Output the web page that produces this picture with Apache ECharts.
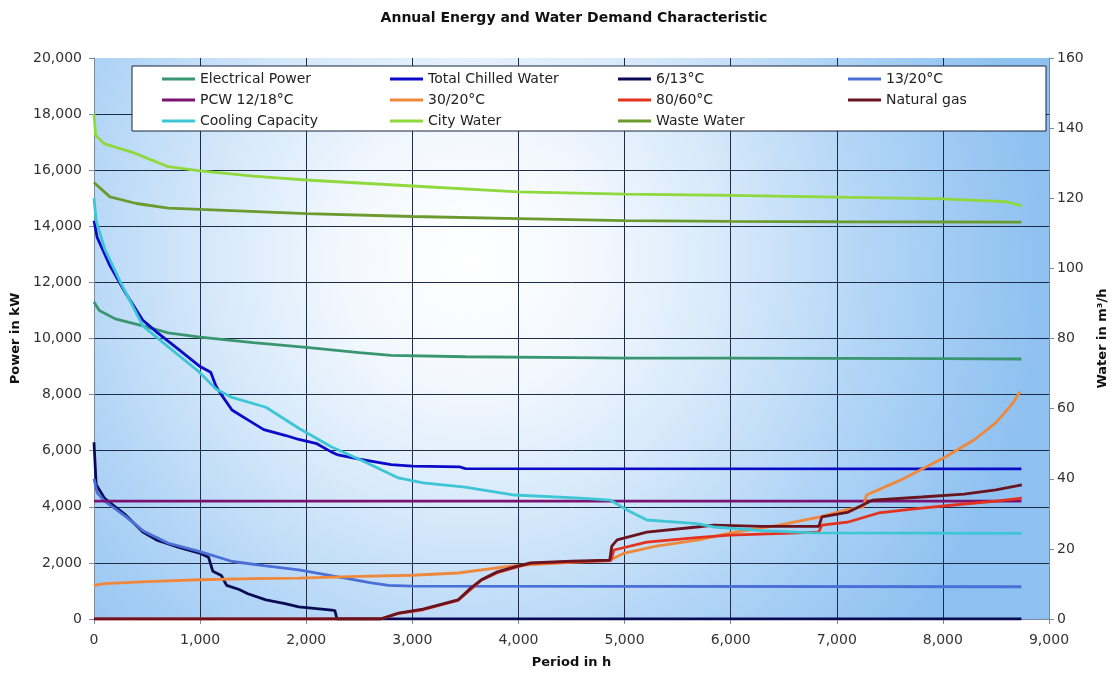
<!DOCTYPE html>
<html>
<head>
<meta charset="utf-8">
<title>Annual Energy and Water Demand Characteristic</title>
<script src="https://cdn.jsdelivr.net/npm/echarts@6/dist/echarts.min.js"></script>
<style>
  html, body { margin: 0; padding: 0; background: #fff; }
  #chart { width: 1117px; height: 679px; }
</style>
</head>
<body>
<div id="chart"></div>
<script>
// 时间轴刻度 (h) 与两条纵轴
const xTicks = [0, 1000, 2000, 3000, 4000, 5000, 6000, 7000, 8000, 9000]
const powerTicks = [0, 2000, 4000, 6000, 8000, 10000, 12000, 14000, 16000, 18000, 20000]
const waterTicks = [0, 20, 40, 60, 80, 100, 120, 140, 160]

// 各曲线：[小时, 数值]，功率单位 kW
const electricalPower = [[0, 11300], [50, 11000], [200, 10700], [460, 10450], [700, 10200], [1000, 10050], [1500, 9850], [2000, 9680], [2500, 9500], [2800, 9400], [3500, 9350], [4500, 9320], [5000, 9300], [6000, 9300], [7000, 9290], [8000, 9280], [8740, 9270]]
const totalChilled = [[0, 14200], [30, 13600], [150, 12600], [300, 11600], [460, 10650], [600, 10200], [800, 9600], [1000, 9000], [1100, 8800], [1150, 8300], [1200, 8000], [1300, 7450], [1450, 7100], [1600, 6750], [1800, 6550], [1930, 6400], [2100, 6250], [2240, 5950], [2300, 5850], [2500, 5700], [2800, 5500], [3000, 5450], [3450, 5420], [3500, 5360], [8740, 5350]]
const chilled613 = [[0, 6300], [20, 4800], [100, 4300], [200, 4000], [300, 3700], [460, 3100], [600, 2800], [800, 2550], [993, 2350], [1080, 2200], [1120, 1700], [1200, 1550], [1250, 1200], [1368, 1050], [1450, 900], [1620, 680], [1800, 550], [1930, 430], [2240, 320], [2270, 300], [2290, 0], [8740, 0]]
const cooling1320 = [[0, 5000], [30, 4500], [100, 4200], [300, 3650], [460, 3150], [700, 2700], [1000, 2400], [1303, 2050], [1600, 1900], [1930, 1750], [2300, 1500], [2600, 1300], [2774, 1200], [3000, 1170], [8740, 1150]]
const pcw1218 = [[0, 4200], [8740, 4200]]
const heat3020 = [[0, 1200], [100, 1260], [500, 1330], [1000, 1400], [1500, 1440], [1930, 1460], [2500, 1520], [3000, 1560], [3430, 1640], [3964, 1900], [4500, 2020], [4850, 2080], [5000, 2350], [5300, 2600], [5700, 2820], [5990, 3060], [6457, 3350], [6832, 3636], [7100, 3900], [7250, 4000], [7280, 4420], [7600, 4950], [8023, 5775], [8300, 6400], [8500, 7000], [8650, 7650], [8725, 8090]]
const heat8060 = [[0, 0], [2700, 0], [2870, 200], [3100, 330], [3430, 660], [3550, 1050], [3650, 1380], [3800, 1650], [3964, 1830], [4114, 1980], [4500, 2040], [4870, 2080], [4900, 2460], [5210, 2740], [5680, 2900], [5990, 2990], [6500, 3050], [6830, 3100], [6860, 3350], [7100, 3450], [7395, 3780], [7800, 3950], [8200, 4100], [8500, 4200], [8744, 4310]]
const naturalGas = [[0, 0], [2700, 0], [2870, 210], [3100, 350], [3430, 680], [3550, 1100], [3650, 1400], [3800, 1680], [3964, 1860], [4114, 2000], [4500, 2060], [4860, 2100], [4880, 2600], [4930, 2820], [5210, 3100], [5680, 3280], [5840, 3350], [6300, 3300], [6830, 3300], [6860, 3640], [7100, 3800], [7340, 4240], [7800, 4350], [8200, 4450], [8500, 4600], [8744, 4780]]
const coolingCapacity = [[0, 15000], [20, 14200], [100, 13200], [250, 12000], [460, 10450], [700, 9700], [993, 8800], [1150, 8200], [1300, 7900], [1620, 7550], [1930, 6800], [2240, 6130], [2555, 5600], [2868, 5030], [3100, 4850], [3496, 4700], [3964, 4420], [4583, 4310], [4864, 4240], [5023, 3890], [5210, 3530], [5680, 3400], [5840, 3280], [6300, 3150], [6776, 3070], [8740, 3050]]
// 水量曲线，单位 m³/h（右轴）
const cityWater = [[0, 144], [15, 138], [100, 135.5], [370, 133], [700, 129], [1000, 127.8], [1500, 126.3], [2000, 125.2], [3000, 123.5], [4000, 121.8], [5000, 121.2], [6000, 120.8], [7000, 120.3], [8000, 119.8], [8600, 119], [8740, 117.8]]
const wasteWater = [[0, 124.5], [150, 120.4], [400, 118.5], [700, 117.2], [1000, 116.8], [2000, 115.6], [3000, 114.8], [4000, 114.2], [5000, 113.6], [6000, 113.4], [7000, 113.3], [8740, 113.2]]

const FONT = 'DejaVu Sans'
const fmt = v => Number(v).toLocaleString('en-US')

const seriesDefs = [
  { name: 'Electrical Power', data: electricalPower, color: '#3a9670', axis: 0 },
  { name: 'Total Chilled Water', data: totalChilled, color: '#0a0ac8', axis: 0 },
  { name: '6/13°C', data: chilled613, color: '#0a0a55', axis: 0 },
  { name: '13/20°C', data: cooling1320, color: '#4a70d8', axis: 0 },
  { name: 'PCW 12/18°C', data: pcw1218, color: '#7a1272', axis: 0 },
  { name: '30/20°C', data: heat3020, color: '#f0883c', axis: 0 },
  { name: '80/60°C', data: heat8060, color: '#e4321e', axis: 0 },
  { name: 'Natural gas', data: naturalGas, color: '#6a1420', axis: 0 },
  { name: 'Cooling Capacity', data: coolingCapacity, color: '#3ec6d6', axis: 0 },
  { name: 'City Water', data: cityWater, color: '#8fd83e', axis: 1 },
  { name: 'Waste Water', data: wasteWater, color: '#6b9a2e', axis: 1 }
]

const chart = echarts.init(document.getElementById('chart'), null, { renderer: 'canvas' })

// 图例四列，每列一个 legend
const legendCols = [[0, 4, 8], [1, 5, 9], [2, 6, 10], [3, 7]]
const legendLeft = [162, 390, 618, 848]
const legends = legendCols.map((col, i) => ({
  orient: 'vertical',
  left: legendLeft[i],
  top: 72,
  padding: 0,
  itemGap: 7,
  itemWidth: 33,
  itemHeight: 3,
  icon: 'rect',
  selectedMode: false,
  data: col.map(k => seriesDefs[k].name),
  textStyle: { fontFamily: FONT, fontSize: 14, color: '#222', lineHeight: 14 }
}))

const axisLineStyle = { color: '#7c8aa4', width: 1 }
const gridLineStyle = { color: '#1e2c48', width: 1 }

const option = {
  animation: false,
  backgroundColor: '#ffffff',
  title: {
    text: 'Annual Energy and Water Demand Characteristic',
    left: 574,
    textAlign: 'center',
    top: 11,
    padding: 0,
    textStyle: { fontFamily: FONT, fontSize: 14, fontWeight: 'bold', color: '#111' }
  },
  legend: legends,
  graphic: [{
    type: 'rect',
    z: 3,
    shape: { x: 132, y: 66, width: 914, height: 65 },
    style: { fill: '#ffffff', stroke: '#1a2540', lineWidth: 1 }
  }],
  grid: {
    show: true,
    left: 94, right: 62, top: 58, bottom: 60,
    borderWidth: 0,
    // 中心偏左上的径向渐变，白到浅蓝
    backgroundColor: new echarts.graphic.RadialGradient(470, 260, 570, [
      { offset: 0, color: '#ffffff' },
      { offset: 0.22, color: '#f3f8fe' },
      { offset: 0.48, color: '#d3e7fa' },
      { offset: 0.72, color: '#b0d4f6' },
      { offset: 1, color: '#8fc1f0' }
    ], true)
  },
  xAxis: {
    type: 'value',
    min: xTicks[0], max: xTicks[xTicks.length - 1], interval: 1000,
    name: 'Period in h', nameLocation: 'middle', nameGap: 37,
    nameTextStyle: { fontFamily: FONT, fontSize: 13, fontWeight: 'bold', color: '#111' },
    axisLine: { lineStyle: axisLineStyle },
    axisTick: { show: true, inside: false, length: 5, lineStyle: axisLineStyle },
    axisLabel: { fontFamily: FONT, fontSize: 14, color: '#333', margin: 14, formatter: fmt },
    splitLine: { show: true, lineStyle: gridLineStyle, showMinLine: false, showMaxLine: false }
  },
  yAxis: [{
    type: 'value',
    min: powerTicks[0], max: powerTicks[powerTicks.length - 1], interval: 2000,
    name: 'Power in kW', nameLocation: 'middle', nameGap: 69, nameRotate: 90,
    nameTextStyle: { fontFamily: FONT, fontSize: 13, fontWeight: 'bold', color: '#111' },
    axisLine: { show: true, lineStyle: axisLineStyle },
    axisTick: { show: true, length: 5, lineStyle: axisLineStyle },
    axisLabel: { fontFamily: FONT, fontSize: 14, color: '#333', margin: 12, formatter: fmt },
    splitLine: { show: true, lineStyle: gridLineStyle, showMinLine: false, showMaxLine: false }
  }, {
    type: 'value',
    position: 'right',
    min: waterTicks[0], max: waterTicks[waterTicks.length - 1], interval: 20,
    name: 'Water in m³/h', nameLocation: 'middle', nameGap: 47, nameRotate: 90,
    nameTextStyle: { fontFamily: FONT, fontSize: 13, fontWeight: 'bold', color: '#111' },
    axisLine: { show: true, lineStyle: axisLineStyle },
    axisTick: { show: true, length: 5, lineStyle: axisLineStyle },
    axisLabel: { fontFamily: FONT, fontSize: 14, color: '#333', margin: 8 },
    splitLine: { show: false }
  }],
  series: seriesDefs.map(s => ({
    name: s.name,
    type: 'line',
    yAxisIndex: s.axis,
    data: s.data,
    color: s.color,
    symbol: 'none',
    smooth: false,
    lineStyle: { width: 2.8, color: s.color },
    z: 2
  }))
}

chart.setOption(option)
</script>
</body>
</html>
